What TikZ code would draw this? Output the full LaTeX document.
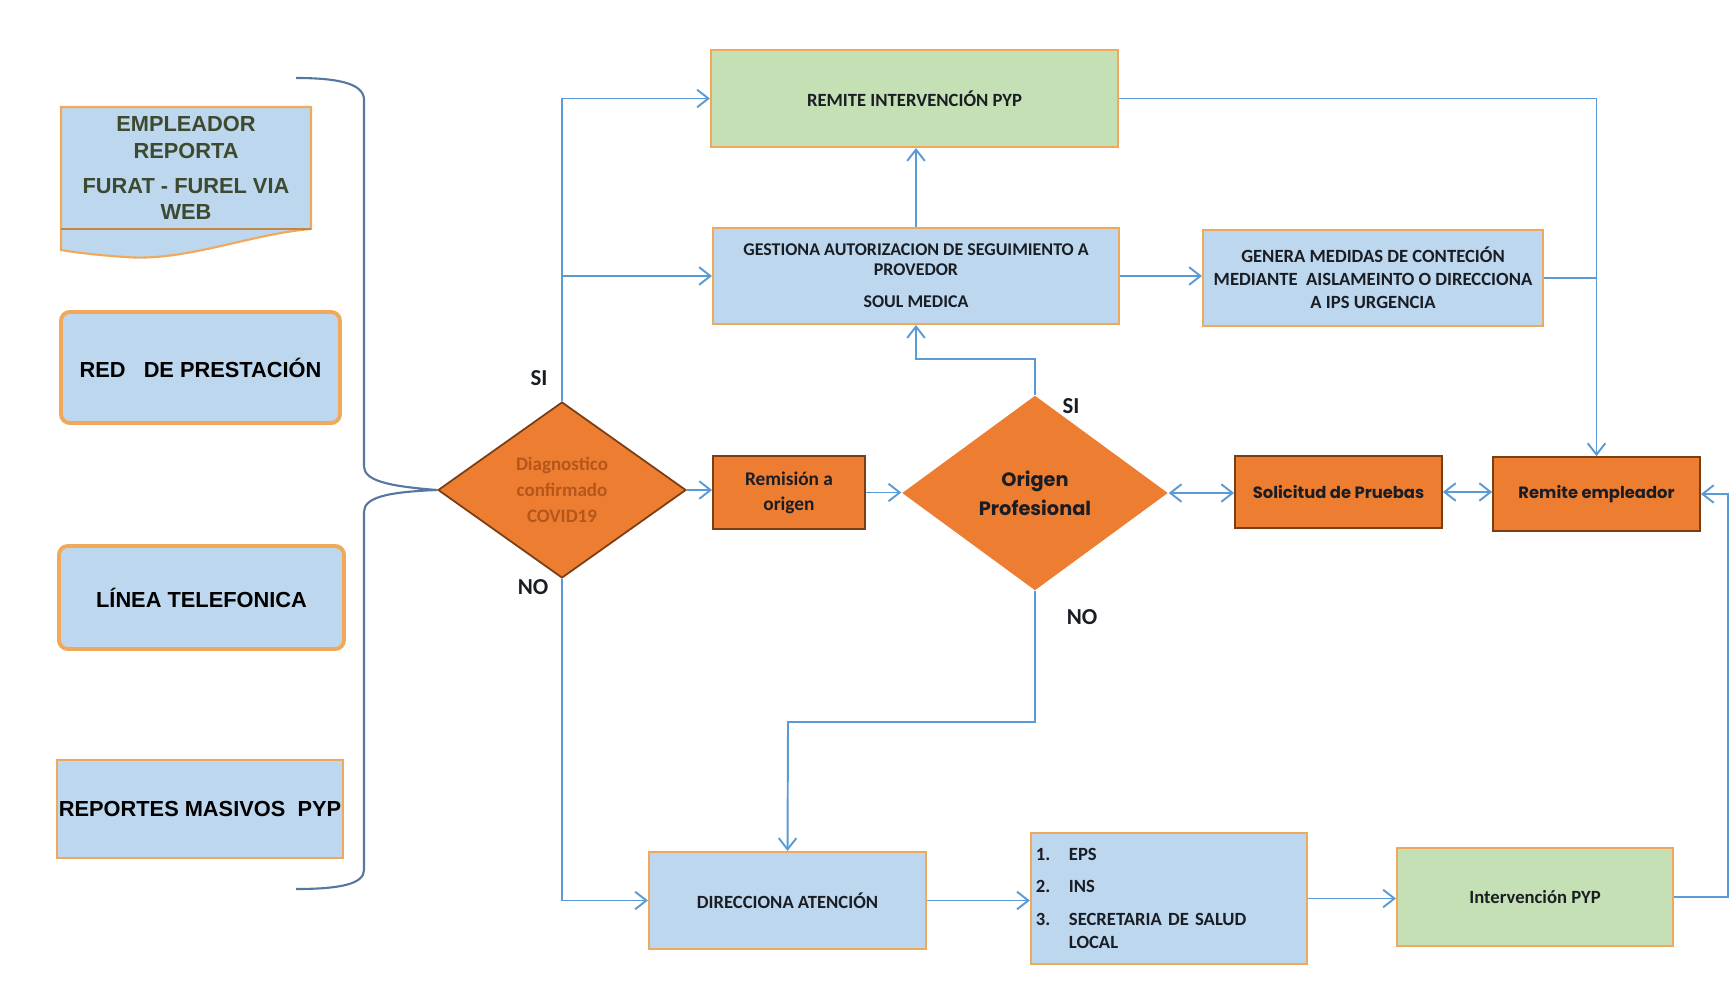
\documentclass[tikz,border=0pt]{standalone}
\usepackage{fontspec}
\setmainfont{Carlito}
\newfontfamily\arialf{Liberation Sans}
\newfontfamily\popf{Poppins}
\usetikzlibrary{shapes.geometric,arrows.meta}
\definecolor{lblue}{HTML}{BDD7EE}
\definecolor{lgreen}{HTML}{C5E0B4}
\definecolor{oborder}{HTML}{F0A95B}
\definecolor{ofill}{HTML}{ED7D31}
\definecolor{dborder}{HTML}{7A3E14}
\definecolor{conn}{HTML}{5B9BD5}
\definecolor{bracec}{HTML}{5577A0}
\definecolor{emptext}{HTML}{3D4A2F}
\definecolor{diagtext}{HTML}{B5561A}
\definecolor{txt}{HTML}{1A1E24}
\begin{document}
\begin{tikzpicture}[x=0.01cm,y=-0.01cm,
  sz/.style 2 args={minimum width=#1*0.01cm, minimum height=#2*0.01cm, inner sep=0pt},
  bluebox/.style={draw=oborder, fill=lblue, line width=0.6pt, align=center, text=txt, font=\bfseries\fontsize{5.3}{6.5}\selectfont},
  greenbox/.style={draw=oborder, fill=lgreen, line width=0.6pt, align=center, text=txt, font=\bfseries\fontsize{5.3}{6.5}\selectfont},
  leftbox/.style={draw=oborder, fill=lblue, line width=0.6pt, align=center, text=black, font=\arialf\bfseries\fontsize{6.2}{7.6}\selectfont},
  roundbox/.style={leftbox, line width=1.1pt, rounded corners=2.5pt},
  obox/.style={draw=dborder, fill=ofill, line width=0.5pt, align=center, text=txt},
  dia/.style={diamond, fill=ofill, align=center, inner sep=0pt},
  lbl/.style={font=\bfseries\fontsize{6.5}{7.5}\selectfont, text=txt, inner sep=0pt},
  arr/.style={draw=conn, line width=0.55pt, -{Straight Barb[length=3.2pt,width=5pt]}},
  darr/.style={draw=conn, line width=0.55pt, {Straight Barb[length=3.2pt,width=5pt]}-{Straight Barb[length=3.2pt,width=5pt]}},
  ln/.style={draw=conn, line width=0.55pt}
]
\useasboundingbox (0,0) rectangle (1731,991);

% --- left column ---
\draw[draw=oborder, fill=lblue, line width=0.6pt]
  (61,107) -- (311,107) -- (311,229)
  .. controls (250,234) and (185,262) .. (125,257)
  .. controls (95,255) and (72,252) .. (61,250) -- cycle;
\draw[draw=oborder!80!black, line width=0.4pt] (61,229) -- (311,229);
\node[align=center, text=emptext, font=\arialf\bfseries\fontsize{6.2}{7.5}\selectfont, inner sep=0pt]
  (emp) at (186,168) {EMPLEADOR\\REPORTA\\[2.4pt]FURAT - FUREL VIA\\WEB};

\node[roundbox, sz={279}{111}] (red) at (200.5,367.5) {RED\ \ \ DE PRESTACIÓN};
\node[roundbox, sz={285}{103}] (linea) at (201.5,597.5) {LÍNEA TELEFONICA};
\node[leftbox, sz={286}{98}] (rep) at (200,809) {REPORTES MASIVOS\ \ PYP};

% brace
\node[dia, draw=dborder, line width=0.5pt, sz={248}{176}, text=diagtext,
  font=\bfseries\fontsize{5.4}{7.4}\selectfont] (dx) at (562,490)
  {Diagnostico\\confirmado\\COVID19};
\draw[draw=bracec, line width=0.6pt]
  (296,78) .. controls (340,78) and (364,84) .. (364,100) -- (364,466)
  .. controls (364,480) and (385,486) .. (dx.west)
  .. controls (385,492) and (364,498) .. (364,512) -- (364,870)
  .. controls (364,884) and (340,889) .. (296,889);

% --- upper flow ---
\node[greenbox, sz={407}{97}] (remit) at (914.5,98.5) {REMITE INTERVENCIÓN PYP};
\node[bluebox, sz={406}{96}, font=\bfseries\fontsize{5.1}{5.7}\selectfont] (gest) at (916,276)
  {GESTIONA AUTORIZACION DE SEGUIMIENTO A\\PROVEDOR\\[3.4pt]SOUL MEDICA};
\node[bluebox, sz={340}{96}] (genera) at (1373,278)
  {GENERA MEDIDAS DE CONTECIÓN\\MEDIANTE\ \ AISLAMEINTO O DIRECCIONA\\A IPS URGENCIA};

% --- middle row ---
\node[obox, sz={152}{73}, font=\bfseries\fontsize{5.5}{7.1}\selectfont] (remis) at (789,492.5) {Remisión a\\origen};
\node[dia, sz={266}{195}, text=txt, font=\popf\bfseries\fontsize{5.5}{8.2}\selectfont] (orig) at (1035,493)
  {Origen\\Profesional};
\node[obox, sz={207}{72}, font=\popf\bfseries\fontsize{4.65}{6}\selectfont] (solic) at (1338.5,492) {Solicitud de Pruebas};
\node[obox, sz={207}{74}, font=\popf\bfseries\fontsize{4.65}{6}\selectfont] (rememp) at (1596.5,494) {Remite empleador};

% --- bottom row ---
\node[bluebox, sz={277}{97}] (direc) at (787.5,900.5) {DIRECCIONA ATENCIÓN};
\node[bluebox, sz={276}{131}, align=left, text width=2.66cm, inner xsep=0.05cm,
  font=\bfseries\fontsize{5.3}{6.5}\selectfont] (lista) at (1169,898.5)
  {\makebox[0.33cm][l]{1.}EPS\\[2.6pt]\makebox[0.33cm][l]{2.}INS\\[2.8pt]\makebox[0.33cm][l]{3.}SECRETARIA DE SALUD\\\hspace*{0.33cm}LOCAL};
\node[greenbox, sz={276}{98}] (interv) at (1535,897) {Intervención PYP};

% labels
\node[lbl] (si1) at (539,378) {SI};
\node[lbl] (no1) at (533,587) {NO};
\node[lbl] (si2) at (1071,406) {SI};
\node[lbl] (no2) at (1082,617) {NO};

% helper coordinates
\coordinate (k1) at (916,359);
\coordinate (k2) at (788,722);
\coordinate (k3) at (1728,700);

% --- connectors ---
\draw[arr] (dx.north) |- (remit.west);
\draw[arr] (dx.north) |- (gest.west);
\draw[arr] (gest.north) -- (gest.north |- remit.south);
\draw[arr] (orig.north) |- (k1) -- (gest.south);
\draw[arr] (gest.east) -- (gest.east -| genera.west);
\draw[arr] (remit.east) -| (rememp.north);
\draw[ln] (genera.east) -- (genera.east -| rememp.north);
\draw[arr] (dx.east) -- (dx.east -| remis.west);
\draw[arr] (remis.east) -- (remis.east -| orig.west);
\draw[darr] (orig.east) -- (orig.east -| solic.west);
\draw[darr] (solic.east) -- (solic.east -| rememp.west);
\draw[arr] (orig.south) |- (k2) -- (direc.north);
\draw[arr] (dx.south) |- (direc.west);
\draw[arr] (direc.east) -- (direc.east -| lista.west);
\draw[arr] (lista.east) -- (lista.east -| interv.west);
\draw[arr] (interv.east) -| (k3) |- (rememp.east);
\end{tikzpicture}
\end{document}
